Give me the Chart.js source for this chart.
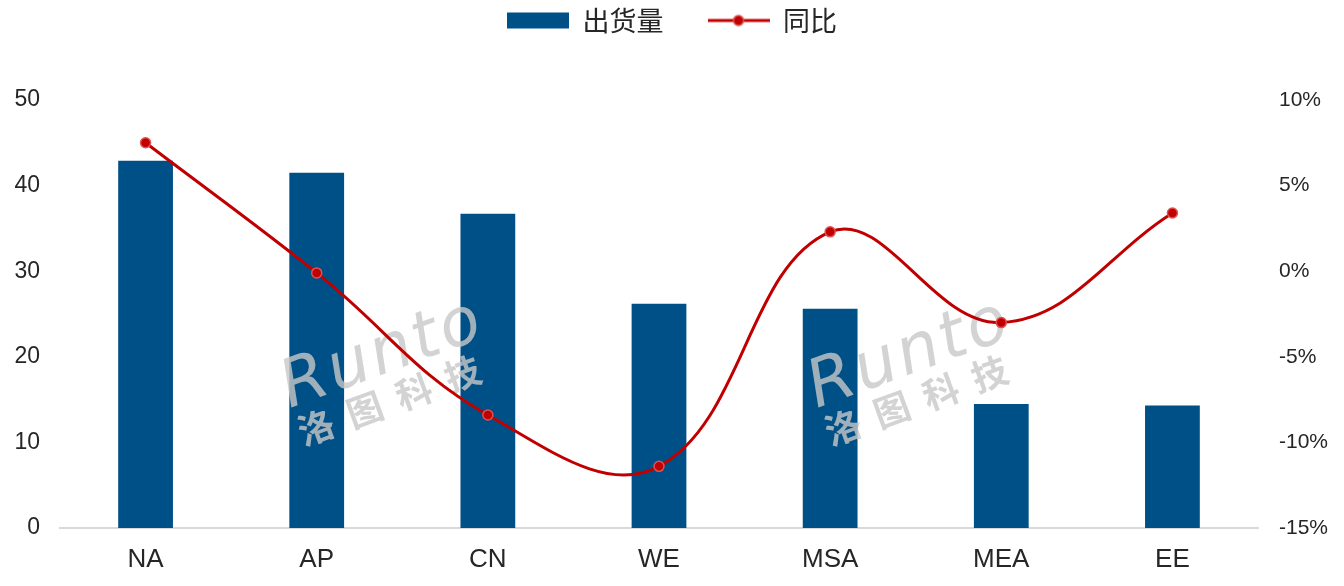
<!DOCTYPE html>
<html>
<head>
<meta charset="utf-8">
<script src="https://cdn.jsdelivr.net/npm/chart.js@4/dist/chart.umd.min.js"></script>
<style>
  body { margin: 0; background: #fff; }
  canvas { display: block; }
</style>
</head>
<body>
<canvas id="canvas" width="1344" height="586"></canvas>
<script>
const regions = ['NA', 'AP', 'CN', 'WE', 'MSA', 'MEA', 'EE'];
const shipments = [42.9, 41.5, 36.7, 26.2, 25.6, 14.5, 14.3];
const yoy = [7.5, -0.1, -8.4, -11.4, 2.3, -3.0, 3.4];
const leftTicks = [0, 10, 20, 30, 40, 50];
const rightTicks = [-15, -10, -5, 0, 5, 10];

const barColor = '#005088';
const lineColor = '#C00000';
const textColor = '#262626';

// legend swatches drawn on little canvases
function swatch(kind) {
    const c = document.createElement('canvas');
    c.width = 62; c.height = 18;
    const g = c.getContext('2d');
    if (kind == 'bar') {
        g.fillStyle = barColor;
        g.fillRect(0, 1, 62, 16);
    } else {
        g.strokeStyle = lineColor;
        g.lineWidth = 3;
        g.beginPath(); g.moveTo(0, 9); g.lineTo(62, 9); g.stroke();
        g.fillStyle = lineColor;
        g.strokeStyle = '#E05050';
        g.lineWidth = 1.5;
        g.beginPath(); g.arc(31, 9, 5, 0, Math.PI * 2); g.fill(); g.stroke();
    }
    return c;
}
const barSwatch = swatch('bar');
const lineSwatch = swatch('line');

function drawMark(ctx, x, y) {
    ctx.save();
    ctx.translate(x, y);
    ctx.rotate(-20 * Math.PI / 180);
    ctx.fillStyle = 'rgba(200,200,200,0.8)';
    ctx.font = 'italic 66px "DejaVu Sans"';
    ctx.letterSpacing = '3px';
    ctx.fillText('Runto', 0, 0);
    ctx.letterSpacing = '0px';
    ctx.font = 'bold 36px "Noto Sans CJK SC"';
    ctx.fillText('洛', 0, 44);
    ctx.fillText('图', 52, 44);
    ctx.fillText('科', 104, 44);
    ctx.fillText('技', 156, 44);
    ctx.restore();
}

const watermark = {
    id: 'watermark',
    afterDatasetDraw(chart, args) {
        if (args.index !== 0) return;
        drawMark(chart.ctx, 284, 392);
        drawMark(chart.ctx, 811, 392);
    }
};

const ctx = document.getElementById('canvas').getContext('2d');
const myChart = new Chart(ctx, {
    type: 'bar',
    data: {
        labels: regions,
        datasets: [{
            label: '出货量',
            data: shipments,
            backgroundColor: barColor,
            barPercentage: 0.32,
            categoryPercentage: 1,
            yAxisID: 'y',
            order: 1
        }, {
            type: 'line',
            label: '同比',
            data: yoy,
            borderColor: lineColor,
            borderWidth: 3,
            backgroundColor: lineColor,
            pointBackgroundColor: lineColor,
            pointBorderColor: '#E05050',
            pointBorderWidth: 1.5,
            pointRadius: 5,
            tension: 0.4,
            clip: false,
            yAxisID: 'y1',
            order: 0
        }]
    },
    options: {
        responsive: false,
        devicePixelRatio: 1,
        animation: false,
        layout: { padding: { top: -37, left: 0, right: 0, bottom: 0 } },
        plugins: {
            tooltip: { enabled: false },
            legend: {
                position: 'top',
                labels: {
                    usePointStyle: true,
                    pointStyleWidth: 62,
                    boxHeight: 18,
                    color: textColor,
                    font: { family: '"Noto Sans CJK SC"', size: 27 },
                    padding: 44,
                    generateLabels(chart) {
                        return chart.data.datasets.map((ds, i) => ({
                            text: ds.label,
                            pointStyle: i == 0 ? barSwatch : lineSwatch,
                            fontColor: textColor,
                            datasetIndex: i,
                            lineWidth: 0
                        }));
                    }
                }
            }
        },
        scales: {
            x: {
                grid: { display: false },
                border: { display: true, color: '#d9d9d9', width: 2 },
                ticks: { color: textColor, font: { family: '"Liberation Sans"', size: 26 }, padding: 8 },
                afterFit(s) { s.height = 58; }
            },
            y: {
                position: 'left',
                min: 0, max: 50,
                afterBuildTicks(s) { s.ticks = leftTicks.map(v => ({ value: v })); },
                grid: { display: false },
                border: { display: false },
                ticks: { color: textColor, font: { family: '"Liberation Sans"', size: 23 }, padding: 12 },
                afterFit(s) { s.width = 60; }
            },
            y1: {
                position: 'right',
                min: -15, max: 10,
                afterBuildTicks(s) { s.ticks = rightTicks.map(v => ({ value: v })); },
                grid: { display: false },
                border: { display: false },
                ticks: {
                    color: textColor,
                    font: { family: '"Liberation Sans"', size: 21 },
                    padding: 13,
                    callback: v => v + '%'
                },
                afterFit(s) { s.width = 86; }
            }
        }
    },
    plugins: [watermark]
});

// keep the plot top at y=100 like the reference
const legendFit = myChart.legend.fit;
myChart.legend.fit = function () {
    legendFit.call(this);
    this.height = 137;
};
myChart.update();
</script>
</body>
</html>
